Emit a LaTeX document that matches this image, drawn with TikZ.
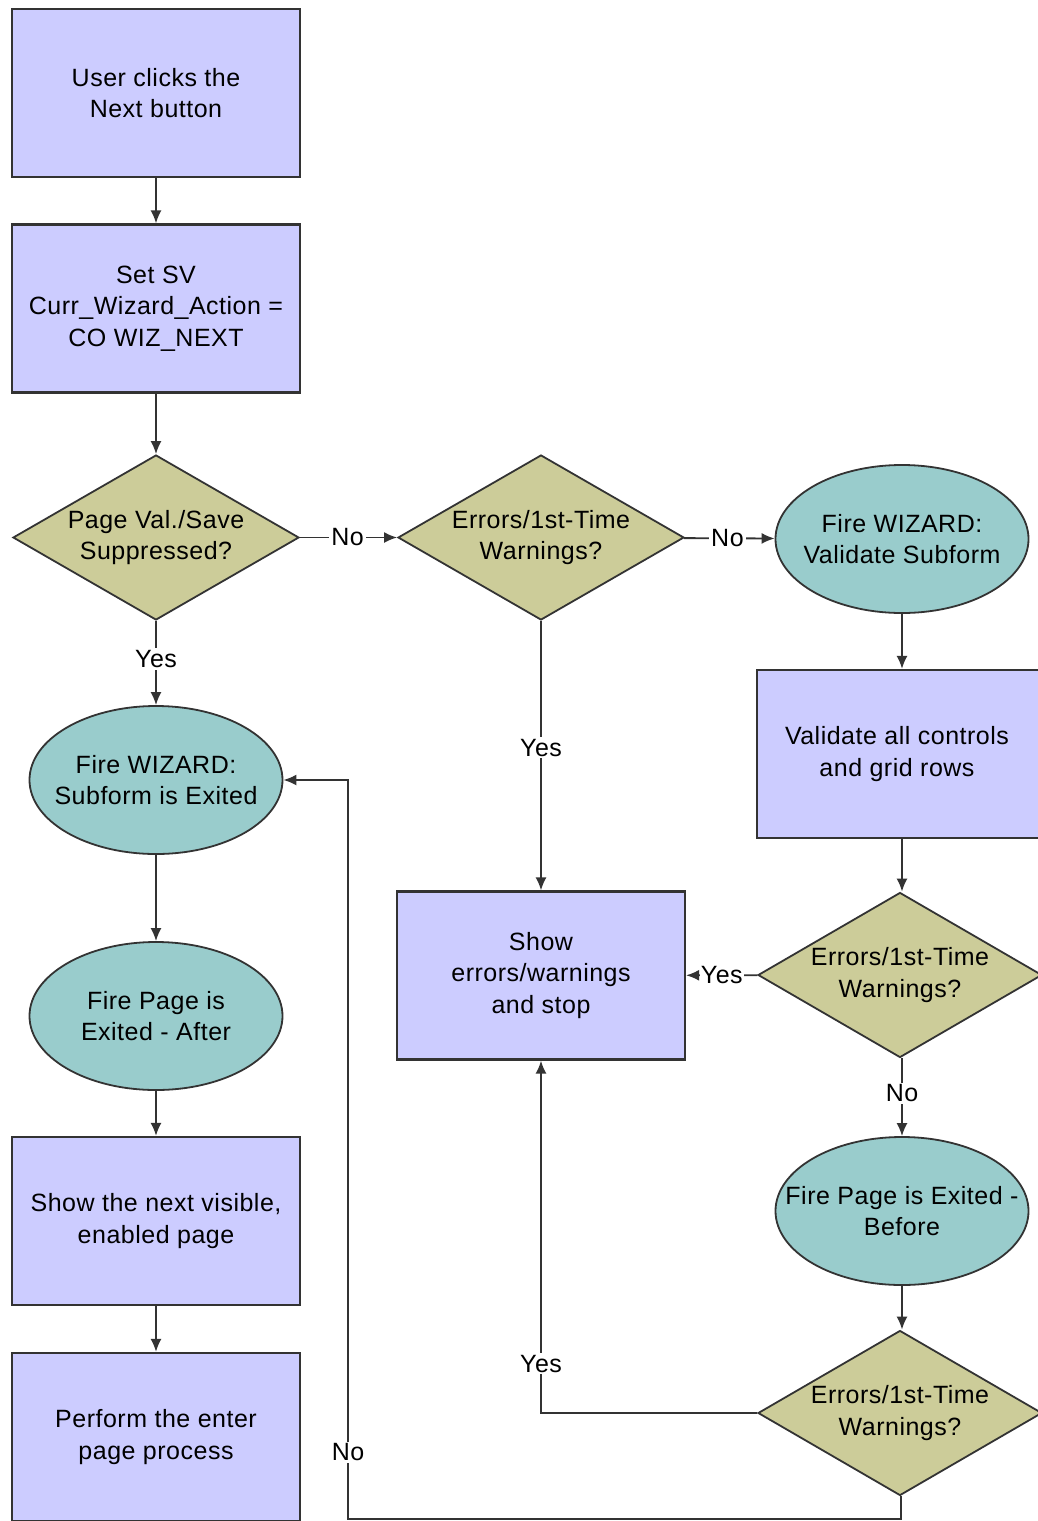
\documentclass[tikz,border=0pt]{standalone}
\usepackage{fontspec}
\setmainfont{Liberation Sans}
\usetikzlibrary{shapes.geometric,arrows.meta}
\definecolor{boxfill}{HTML}{CCCCFF}
\definecolor{diafill}{HTML}{CCCC99}
\definecolor{ellfill}{HTML}{99CCCC}
\definecolor{edge}{HTML}{333333}
\begin{document}
\begin{tikzpicture}[x=1pt,y=-1pt,
  procbox/.style={draw=edge,line width=2.2pt,fill=boxfill,rectangle,inner sep=0pt,minimum width=288pt,minimum height=168pt},
  decision/.style={draw=edge,line width=1.8pt,fill=diafill,diamond,inner sep=0pt,minimum width=286pt,minimum height=165pt},
  event/.style={draw=edge,line width=1.8pt,fill=ellfill,ellipse,inner sep=0pt,minimum width=253pt,minimum height=148pt},
  txt/.style={align=center,inner sep=0pt,font=\fontsize{25}{31.5}\selectfont\addfontfeatures{LetterSpace=2}},
  lbl/.style={fill=white,inner sep=2pt,font=\fontsize{25}{30}\selectfont\addfontfeatures{LetterSpace=2}},
  conn/.style={draw=edge,line width=1.8pt,-{Latex[length=13pt,width=11pt]}},
  plain/.style={draw=edge,line width=1.8pt}]
\useasboundingbox (0,0) rectangle (1038,1521);
\clip (0,0) rectangle (1038,1521);
\fill[white] (0,0) rectangle (1038,1521);

% left column
\node[procbox] (b1) at (156,93) {};
\node[txt] at (b1) {User clicks the\\Next button};
\node[procbox] (b2) at (156,308.5) {};
\node[txt] at (b2) {Set SV\\Curr\_Wizard\_Action =\\CO WIZ\_NEXT};
\node[decision] (d1) at (156,537.5) {};
\node[txt] at (d1) {Page Val./Save\\Suppressed?};
\node[event] (e1) at (156,780) {};
\node[txt] at (e1) {Fire WIZARD:\\Subform is Exited};
\node[event] (e2) at (156,1016) {};
\node[txt] at (e2) {Fire Page is\\Exited - After};
\node[procbox] (b3) at (156,1221) {};
\node[txt] at (b3) {Show the next visible,\\enabled page};
\node[procbox] (b4) at (156,1437) {};
\node[txt] at (b4) {Perform the enter\\page process};

% middle column
\node[decision] (d2) at (541,537.5) {};
\node[txt] at (d2) {Errors/1st-Time\\Warnings?};
\node[procbox] (b5) at (541,975.5) {};
\node[txt] at (b5) {Show\\errors/warnings\\and stop};

% right column
\node[event] (e3) at (902,539) {};
\node[txt] at (e3) {Fire WIZARD:\\Validate Subform};
\node[procbox, minimum width=290pt] (b6) at (902,754) {};
\node[txt] at (897,754) {Validate all controls\\and grid rows};
\node[decision, minimum width=284pt] (d3) at (900,975) {};
\node[txt] at (d3) {Errors/1st-Time\\Warnings?};
\node[event] (e4) at (902,1211) {};
\node[txt] at (e4) {Fire Page is Exited -\\Before};
\node[decision, minimum width=284pt] (d4) at (900,1413) {};
\node[txt] at (d4) {Errors/1st-Time\\Warnings?};

\coordinate (c1) at (901,1519);
\coordinate (c2) at (348,1519);
\coordinate (c3) at (541,1413);

% connectors
\draw[conn] (b1) -- (b2);
\draw[conn] (b2) -- (d1);
\draw[conn] (d1) -- node[lbl,pos=0.49]{No} (d2);
\draw[conn] (d2) -- node[lbl,pos=0.48]{No} (e3);
\draw[conn] (d1) -- node[lbl,pos=0.45]{Yes} (e1);
\draw[conn] (d2) -- node[lbl,pos=0.47]{Yes} (b5);
\draw[conn] (e3.south) -- (e3.south |- b6.north);
\draw[conn] (b6.south -| e3.south) -- (e3.south |- d3.north);
\draw[conn] (d3) -- node[lbl,pos=0.5,inner xsep=1pt]{Yes} (b5);
\draw[conn] (d3.south -| e4.north) -- node[lbl,pos=0.45]{No} (e4);
\draw[conn] (e4) -- (e4.south |- d4.north);
\draw[conn] (d4.west) -- (c3) -- node[lbl,pos=0.14]{Yes} (b5.south);
\draw[conn] (d4.south -| c1) -- (c1) -- (c2) -- node[lbl,pos=0.09]{No} (c2 |- e1.east) -- (e1.east);
\draw[conn] (e1) -- (e2);
\draw[conn] (e2) -- (b3);
\draw[conn] (b3) -- (b4);
\end{tikzpicture}
\end{document}
